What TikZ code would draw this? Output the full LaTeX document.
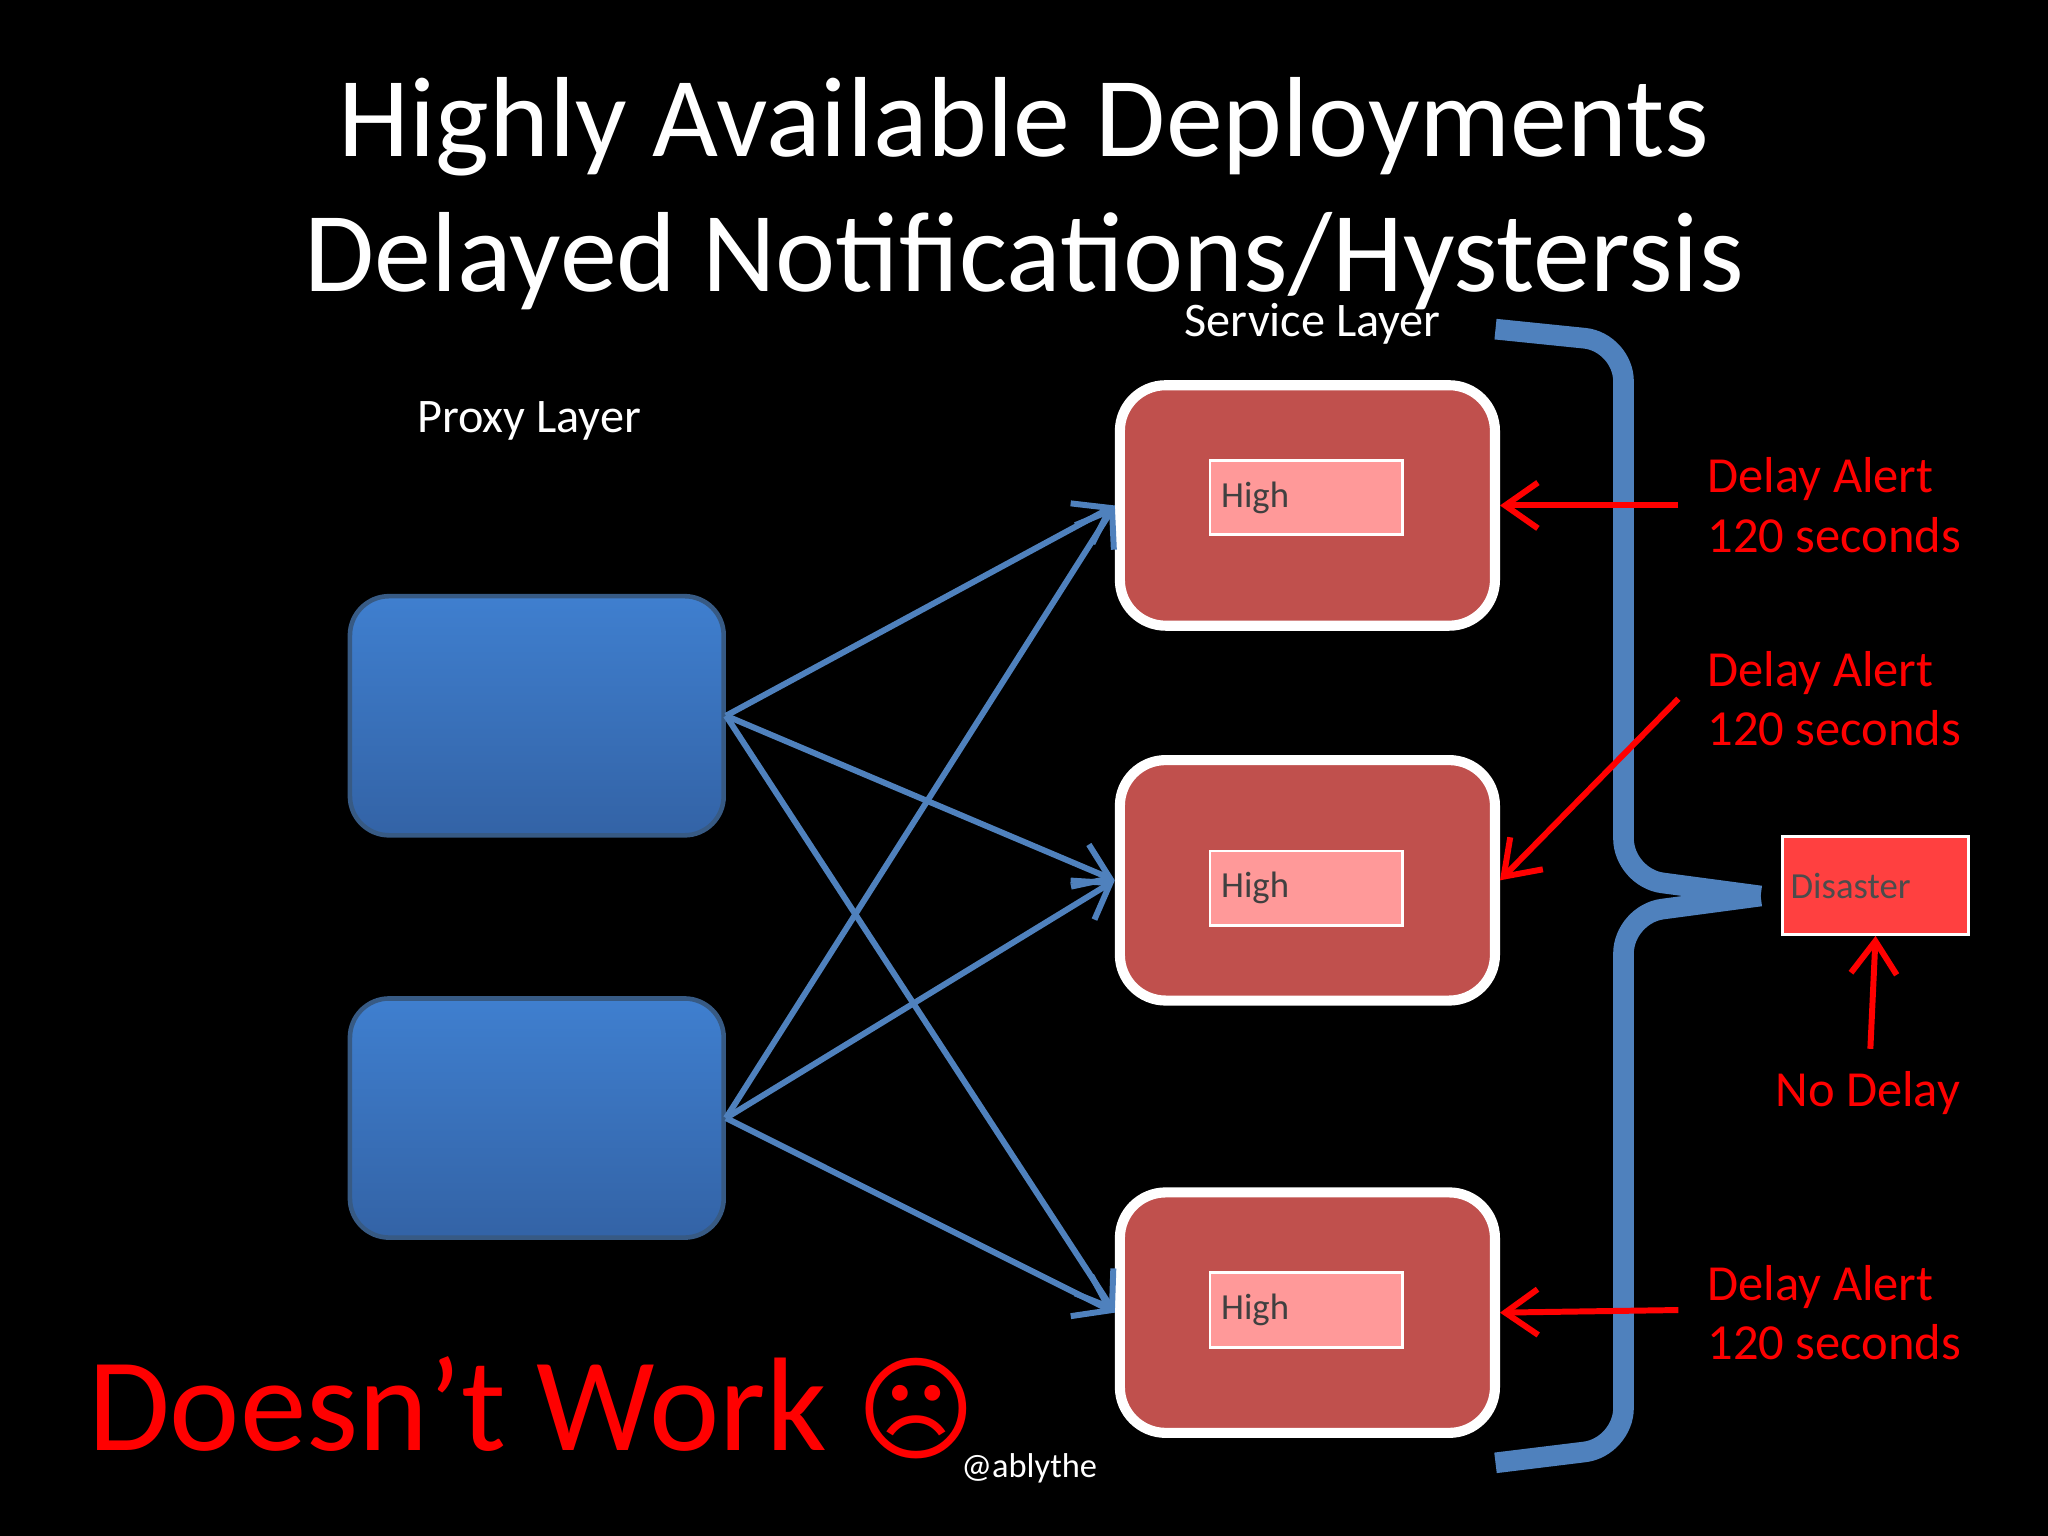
\documentclass[tikz,border=0pt]{standalone}
\usepackage{fontspec}
\setmainfont{Carlito}
\newfontfamily\symfont{DejaVu Sans}
\usetikzlibrary{arrows.meta}
\definecolor{lnblue}{HTML}{4F81BD}
\definecolor{boxred}{HTML}{C0504D}
\definecolor{pinkbox}{HTML}{FF9999}
\definecolor{alertred}{HTML}{FF0000}
\definecolor{ptop}{HTML}{3F7FCF}
\definecolor{pbot}{HTML}{3363A6}
\tikzset{
 proxy/.style={draw=lnblue!70!black,line width=1pt,rounded corners=0.3cm,top color=ptop,bottom color=pbot,minimum width=2.86cm,minimum height=1.83cm},
 svc/.style={draw=white,line width=2.2pt,fill=boxred,rounded corners=0.35cm,minimum width=2.87cm,minimum height=1.84cm},
 hi/.style={fill=pinkbox,draw=white,line width=0.6pt,minimum width=1.47cm,minimum height=0.57cm,font=\fontsize{8}{9}\selectfont\color{black!75},text width=1.3cm,align=left,inner sep=1pt},
 conn/.style={lnblue,line width=1.3pt,-{Straight Barb[length=2.5mm,width=3.5mm]}},
 ralert/.style={alertred,line width=1.3pt,-{Straight Barb[length=2.5mm,width=3.5mm]}},
 rlabel/.style={text=alertred,font=\fontsize{11}{13}\selectfont,align=left},
}
\begin{document}
\begin{tikzpicture}[x=0.01cm,y=-0.01cm]
\fill[black] (0,0) rectangle (1568,1176);
\node[white,font=\fontsize{24.8}{28}\selectfont] (t1) at (784,97) {Highly Available Deployments};
\node[white,font=\fontsize{24.8}{28}\selectfont] (t2) at (784,200) {Delayed Notifications/Hystersis};
\node[white,font=\fontsize{10.5}{12}\selectfont] (sl) at (1005,248) {Service Layer};
\node[white,font=\fontsize{10.5}{12}\selectfont] (pl) at (405,322) {Proxy Layer};
\node[proxy] (p1) at (411,548) {};
\node[proxy] (p2) at (411,856) {};
\node[svc] (s1) at (1001,387) {};
\node[svc] (s2) at (1001,674) {};
\node[svc] (s3) at (1001,1005) {};
\node[hi] (h1) at (1000,381) {High};
\node[hi] (h2) at (1000,680) {High};
\node[hi] (h3) at (1000,1003) {High};
\foreach \p in {p1,p2}{\foreach \s in {s1,s2,s3}{\draw[conn] (\p.east) -- (\s.west);}}
\draw[lnblue,line width=4.5pt,rounded corners=0.3cm] (1145,252) -- (1243,262) -- (1243,672) -- (1348,686);
\draw[lnblue,line width=4.5pt,rounded corners=0.3cm] (1348,686) -- (1243,700) -- (1243,1108) -- (1145,1120);
\node[rlabel,anchor=west] (a1) at (1295,387) {Delay Alert\\120 seconds};
\node[rlabel,anchor=west] (a2) at (1295,535) {Delay Alert\\120 seconds};
\node[rlabel,anchor=west] (a3) at (1295,1005) {Delay Alert\\120 seconds};
\coordinate (c1) at (1285,387);
\coordinate (c2) at (1285,535);
\coordinate (c3) at (1285,1003);
\draw[ralert] (c1) -- (s1.east);
\draw[ralert] (c2) -- (s2.east);
\draw[ralert] (c3) -- (s3.east);
\node[fill=red!75!white,draw=white,line width=0.6pt,minimum width=1.42cm,minimum height=0.75cm,text width=1.3cm,align=left,inner sep=1pt,font=\fontsize{8}{9}\selectfont\color{black!70}] (dis) at (1436,678) {Disaster};
\node[rlabel] (nd) at (1430,837) {No Delay};
\coordinate (c4) at (1432,803);
\draw[ralert] (c4) -- (dis.south);
\node[text=alertred,font=\fontsize{29}{32}\selectfont,anchor=west] (dw) at (55,1078) {Doesn’t Work {\symfont\fontsize{25}{28}\selectfont ☹}};
\node[white,font=\fontsize{7.5}{8}\selectfont] (ab) at (788,1124) {@ablythe};
\end{tikzpicture}
\end{document}
